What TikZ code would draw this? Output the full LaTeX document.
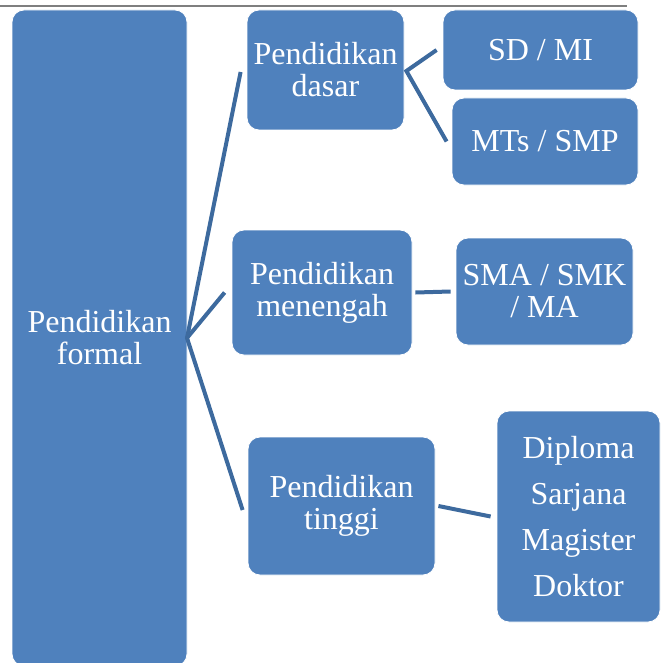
\documentclass[tikz,border=0pt]{standalone}
\usepackage{fontspec}
\setmainfont{Liberation Serif}
\definecolor{boxblue}{HTML}{4F81BD}
\definecolor{linkblue}{HTML}{3D6A9E}
\definecolor{rulegray}{HTML}{7F7F7F}
\tikzset{
  box/.style={rectangle, rounded corners=9pt, fill=boxblue, draw=white, line width=0.6pt,
    text=white, align=center, inner sep=0pt, font=\fontsize{24}{24}\selectfont},
  conn/.style={draw=linkblue, line width=3pt, line cap=butt, line join=miter}
}
\begin{document}
\begin{tikzpicture}[x=0.75pt,y=-0.75pt]
\useasboundingbox (0,0) rectangle (660,663);
\coordinate (rl) at (0,6);
\coordinate (rr) at (627,6);
\draw[rulegray, line width=0.8pt] (rl) -- (rr);

\node[box, minimum width=131.25pt, minimum height=492pt] (formal) at (99.5,338) {Pendidikan\\formal};
\node[box, minimum width=117.75pt, minimum height=90pt] (dasar) at (325.5,70) {Pendidikan\\dasar};
\node[box, minimum width=146.25pt, minimum height=60pt] (sdmi) at (540.5,50) {SD / MI};
\node[box, minimum width=139.5pt, minimum height=65.25pt] (mts) at (545,141.5) {MTs / SMP};
\node[box, minimum width=135pt, minimum height=93.75pt] (menengah) at (322,292.5) {Pendidikan\\menengah};
\node[box, minimum width=132.75pt, minimum height=80.25pt] (sma) at (544.5,291.5) {SMA / SMK\\/ MA};
\node[box, minimum width=140.25pt, minimum height=103.5pt] (tinggi) at (341.5,506) {Pendidikan\\tinggi};
\node[box, minimum width=122.25pt, minimum height=158.25pt, font=\fontsize{24}{34.5}\selectfont] (diploma) at (578.5,516.5) {Diploma\\Sarjana\\Magister\\Doktor};

\coordinate (hub) at (187,338);
\draw[conn] ([shift={(-4.5pt,-1.5pt)}]dasar.west) -- (hub) -- ([shift={(-3.75pt,-3pt)}]tinggi.west);
\draw[conn] (hub) -- ([shift={(-5.25pt,0pt)}]menengah.west);

\draw[conn] ([shift={(-4.5pt,0pt)}]sdmi.west) -- ([shift={(1.5pt,-0.75pt)}]dasar.east) -- ([shift={(-3.75pt,0pt)}]mts.west);
\draw[conn] ([shift={(2.25pt,0pt)}]menengah.east) -- ([shift={(-3.75pt,0pt)}]sma.west);
\draw[conn] ([shift={(2.25pt,0pt)}]tinggi.east) -- ([shift={(-4.5pt,0pt)}]diploma.west);
\end{tikzpicture}
\end{document}
